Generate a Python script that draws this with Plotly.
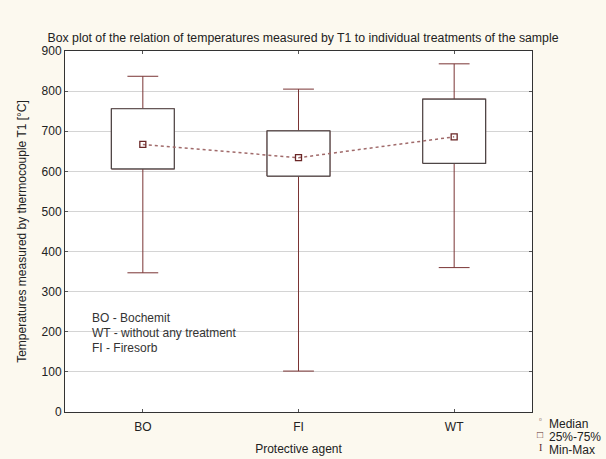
import plotly.graph_objects as go

# Summary statistics of T1 per protective agent
agents = ["BO", "FI", "WT"]
t_min = [347, 102, 360]
t_q1 = [606, 588, 620]
t_median = [667, 634, 686]
t_q3 = [756, 701, 780]
t_max = [837, 805, 868]
y_ticks = [0, 100, 200, 300, 400, 500, 600, 700, 800, 900]
agent_notes = ["BO - Bochemit", "WT - without any treatment", "FI - Firesorb"]

FONT = "Liberation Sans, Arial, sans-serif"
WHISKER = "#7a3434"
BOX_EDGE = "#4e4646"
pos = list(range(len(agents)))
half = 0.202

fig = go.Figure()

# Whiskers with caps (median line is covered by the box overlay below)
fig.add_trace(go.Box(
    x=pos, q1=t_q1, median=t_median, q3=t_q3,
    lowerfence=t_min, upperfence=t_max,
    width=2 * half, whiskerwidth=0.49,
    line=dict(color=WHISKER, width=1), fillcolor="white",
    boxpoints=False, showlegend=False, hoverinfo="skip",
))

# 25%-75% boxes
bx, by = [], []
for p, lo, hi in zip(pos, t_q1, t_q3):
    bx += [p - half, p + half, p + half, p - half, p - half, None]
    by += [lo, lo, hi, hi, lo, None]
fig.add_trace(go.Scatter(
    x=bx, y=by, mode="lines", fill="toself", fillcolor="white",
    line=dict(color=BOX_EDGE, width=1.2), showlegend=False, hoverinfo="skip",
))

# Medians joined by a dotted line
fig.add_trace(go.Scatter(
    x=pos, y=t_median, mode="lines+markers",
    line=dict(color="#a06a6a", width=1.5, dash="dot"),
    marker=dict(symbol="square-open", size=6, color="#6a2626", line=dict(width=1.3)),
    showlegend=False,
))

fig.update_layout(
    width=606, height=459,
    margin=dict(l=65, r=74, t=51, b=47, autoexpand=False),
    paper_bgcolor="#fcf9ef", plot_bgcolor="white",
    font=dict(family=FONT, size=12, color="#222222"),
    title=dict(
        text="Box plot of the relation of temperatures measured by T1 to individual treatments of the sample",
        font=dict(size=12.3, color="#222222"), x=0.5, xanchor="center", y=1 - 38 / 459, yanchor="middle",
    ),
    xaxis=dict(
        range=[-0.5, 2.5], tickvals=pos, ticktext=agents, automargin=False,
        showgrid=False, zeroline=False,
        showline=True, linecolor="#333333", linewidth=1, mirror="ticks",
        ticks="inside", ticklen=3, tickcolor="#555555", ticklabelstandoff=4,
        title=dict(text="Protective agent", font=dict(size=12), standoff=11),
    ),
    yaxis=dict(
        range=[0, 900], tickvals=y_ticks, automargin=False,
        showgrid=True, gridcolor="#d4d4d4", gridwidth=1, zeroline=False,
        showline=True, linecolor="#333333", linewidth=1, mirror="ticks",
        ticks="inside", ticklen=3, tickcolor="#555555",
        title=dict(text="Temperatures measured by thermocouple T1 [°C]", font=dict(size=12), standoff=12),
    ),
)

# Abbreviation key inside the plot
for i, note in enumerate(agent_notes):
    fig.add_annotation(
        x=90, y=318 + 15 * i, text=note, showarrow=False,
        xanchor="left", yanchor="middle", font=dict(size=12, color="#333333"),
    )

# Symbol key outside the plot, lower right
key_rows = [("\u25ab", "Median", 8, -5), ("\u25a1", "25%-75%", 10, -3), ("I", "Min-Max", 10, -3)]
for i, (sym, label, sz, dy) in enumerate(key_rows):
    yc = 424 + 13 * i
    fig.add_annotation(
        x=547, y=yc, text=label, showarrow=False, xanchor="left", yanchor="middle",
        font=dict(size=12, color="#222222"),
    )
    fig.add_annotation(
        x=540, y=yc + dy, text=sym, showarrow=False, xanchor="center", yanchor="middle",
        font=dict(size=sz, color="#5a2a2a",
                  family="Liberation Serif, serif" if sym == "I" else FONT),
    )

# Convert pixel-placed annotations to paper coordinates
L, R, T, B = 65, 532, 51, 412
for a in fig.layout.annotations:
    a.x = (a.x - L) / (R - L)
    a.y = (B - a.y) / (B - T)
    a.xref = "paper"
    a.yref = "paper"

fig.write_html("out.html")
